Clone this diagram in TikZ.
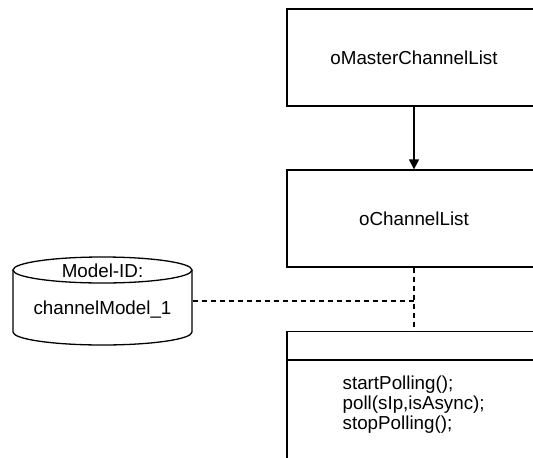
\documentclass[tikz,border=0pt]{standalone}
\usepackage{fontspec}
\setmainfont{Liberation Sans}
\usetikzlibrary{arrows.meta}
\begin{document}
\begin{tikzpicture}[x=1pt,y=-1pt,
    line width=1.3pt,
    every node/.style={font=\fontsize{18.8}{20}\selectfont, text=black},
    classbox/.style={draw, minimum width=254pt, minimum height=97pt, inner sep=0pt},
    dashlink/.style={line width=1.2pt, dash pattern=on 5pt off 4pt},
    flow/.style={-{Triangle[length=10pt,width=10pt]}}]
  \useasboundingbox (0,0) rectangle (533,458);
  \clip (0,0) rectangle (533,458);

  % list objects
  \node[classbox] (master) at (414,57.5) {oMasterChannelList};
  \node[classbox] (chlist) at (414,218.5) {oChannelList};

  % polling class with an empty header compartment
  \node[draw, minimum width=254pt, minimum height=140pt, inner sep=0pt, anchor=north]
    (poller) at (414,331) {};
  \draw (poller.north west) ++(0,29) coordinate (divl) -- (divl -| poller.east);
  \node[anchor=north west, align=left, inner sep=0pt] (ops) at (342,375)
    {startPolling();\\poll(sIp,isAsync);\\stopPolling();};

  % model store drawn as a cylinder
  \node[minimum width=179pt, minimum height=88pt, inner sep=0pt] (model) at (102.5,301) {};
  \draw[fill=white] (13,270) -- (13,332)
    arc[start angle=180, end angle=0, x radius=89.5, y radius=13] -- (192,270);
  \draw[fill=white] (102.5,270) ellipse [x radius=89.5, y radius=13];
  \node (modelid) at (102.5,271) {Model-ID:};
  \node (modelname) at (102.5,310) {channelModel\_1};

  % connectors
  \draw[flow] (master.south) -- (chlist.north);
  \draw[dashlink] (chlist.south) -- (poller.north);
  \draw[dashlink] (model.east) -- (model.east -| chlist.south);
\end{tikzpicture}
\end{document}
